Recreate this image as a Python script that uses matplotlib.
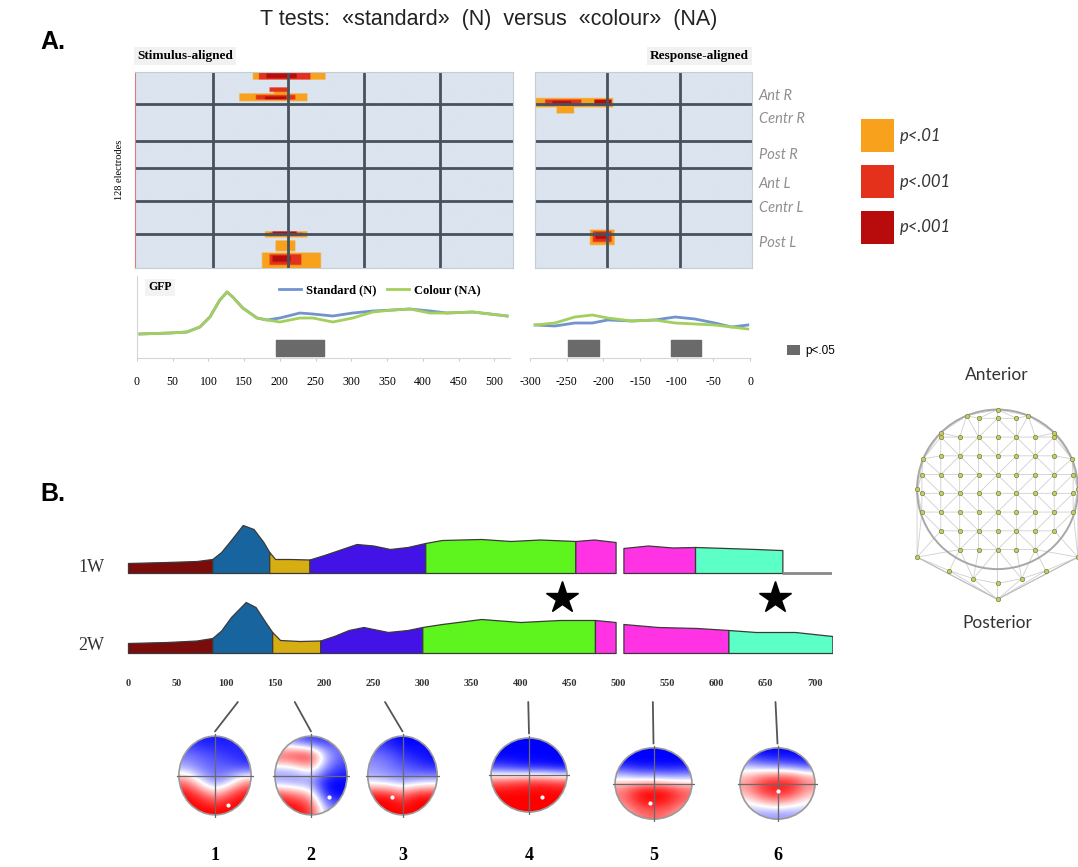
import numpy as np
import matplotlib
matplotlib.use('Agg')
import matplotlib.pyplot as plt
from matplotlib.colors import ListedColormap
from matplotlib.patches import Ellipse, Patch, ConnectionPatch
import matplotlib.tri as mtri

W, H = 1078, 867
SERIF = 'Liberation Serif'
SANS = 'Liberation Sans'
SOFT = 'Lato'

# ---------------- Part A: t-test maps ----------------
region_labels = ['Ant R', 'Centr R', 'Post R', 'Ant L', 'Centr L', 'Post L']
region_label_pos = [15, 30, 53, 72, 88, 111]
region_bounds = [21, 45, 63, 84, 106]
stim_grid_ms = [100, 200, 300, 400]
resp_grid_ms = [-200, -100]

# (first electrode, last electrode, start ms, end ms, level) 1=p<.01, 2/3=p<.001
stim_clusters = [
    (0, 4, 156, 252, 1), (0, 4, 165, 232, 2), (1, 3, 175, 215, 3),
    (14, 18, 139, 229, 1), (15, 17, 160, 212, 2), (16, 17, 172, 200, 3),
    (10, 12, 178, 203, 2), (13, 14, 185, 205, 1),
    (104, 107, 172, 228, 1), (105, 106, 178, 222, 2), (104, 105, 182, 214, 3),
    (110, 116, 186, 212, 1),
    (118, 127, 168, 246, 1), (119, 125, 178, 220, 2), (120, 123, 183, 206, 3),
]
resp_clusters = [
    (17, 22, -300, -192, 1), (18, 21, -285, -236, 2), (19, 20, -275, -250, 3),
    (18, 21, -218, -194, 3), (23, 26, -270, -246, 1),
    (103, 112, -224, -190, 1), (104, 110, -220, -194, 2), (105, 108, -215, -198, 3),
]

# GFP curves
stim_t = [4, 46, 70, 88, 102, 116, 126, 134, 148, 168, 182, 200, 228, 246, 274,
          302, 330, 358, 382, 410, 434, 470, 518]
stim_std = [2.4, 2.5, 2.6, 3.1, 4.1, 5.8, 6.6, 6.1, 5.0, 4.0, 3.8, 4.0, 4.5, 4.4, 4.2,
            4.5, 4.7, 4.8, 4.9, 4.7, 4.5, 4.6, 4.2]
stim_col = [2.4, 2.5, 2.6, 3.1, 4.1, 5.8, 6.6, 6.1, 5.0, 4.0, 3.8, 3.6, 4.0, 4.0, 3.6,
            4.0, 4.6, 4.8, 4.9, 4.5, 4.5, 4.6, 4.2]
resp_t = [-293, -266, -239, -215, -194, -161, -130, -102, -75, -48, -25, -3]
resp_std = [3.3, 3.2, 3.5, 3.5, 3.8, 3.7, 3.8, 4.1, 3.9, 3.5, 3.1, 3.3]
resp_col = [3.3, 3.5, 4.1, 4.3, 4.0, 3.7, 3.8, 3.5, 3.4, 3.3, 3.1, 2.9]
stim_sig = [(195, 262)]
resp_sig = [(-248, -206), (-108, -67)]

# ---------------- Part B: microstate segmentation ----------------
seg_colors = {'m1': '#7a0c0c', 'm2': '#17649f', 'm3': '#d6ad12', 'm4': '#4312e6',
              'm5': '#5ef41e', 'm6': '#ff33e3', 'm7': '#5cffc6'}
t_1w = [0, 40, 70, 86, 95, 105, 117, 128, 138, 144, 150, 165, 185, 200, 215, 233,
        250, 267, 285, 303, 320, 360, 390, 420, 456, 475, 497,
        505, 530, 555, 578, 610, 640, 665, 667]
h_1w = [0.20, 0.22, 0.24, 0.28, 0.42, 0.66, 0.96, 0.88, 0.62, 0.42, 0.28, 0.28, 0.27, 0.36, 0.46, 0.58,
        0.55, 0.48, 0.52, 0.60, 0.66, 0.68, 0.64, 0.67, 0.64, 0.67, 0.62,
        0.50, 0.55, 0.51, 0.52, 0.50, 0.48, 0.46, 0.46]
seg_1w = [(0, 86, 'm1'), (86, 144, 'm2'), (144, 185, 'm3'), (185, 303, 'm4'),
          (303, 456, 'm5'), (456, 497, 'm6'), (505, 578, 'm6'), (578, 667, 'm7')]
tail_1w = (667, 718)
t_2w = [0, 40, 70, 86, 95, 105, 120, 130, 140, 147, 155, 175, 196, 210, 225, 240,
        265, 285, 300, 320, 360, 400, 440, 476, 497,
        505, 540, 580, 612, 640, 680, 718]
h_2w = [0.20, 0.22, 0.25, 0.30, 0.45, 0.72, 1.02, 0.92, 0.62, 0.42, 0.26, 0.24, 0.25, 0.34, 0.46, 0.52,
        0.42, 0.46, 0.52, 0.58, 0.68, 0.62, 0.66, 0.66, 0.62,
        0.58, 0.52, 0.50, 0.46, 0.42, 0.42, 0.34]
seg_2w = [(0, 86, 'm1'), (86, 147, 'm2'), (147, 196, 'm3'), (196, 300, 'm4'),
          (300, 476, 'm5'), (476, 497, 'm6'), (505, 612, 'm6'), (612, 718, 'm7')]
star_t = [442, 660]
b_ticks = list(range(0, 701, 50))

# topographies (coarse rows top->bottom, -1 blue ... +1 red)
topo_maps = [
    [[-0.8, -0.9, -0.9, -0.9, -0.8], [-0.5, -0.6, -0.7, -0.8, -0.9], [-0.3, -0.5, -0.6, -0.6, -0.7],
     [0.6, -0.1, -0.5, -0.2, 0.5], [1, 0.8, 0.3, 0.8, 1], [1, 1, 1, 1, 1]],
    [[-0.3, -0.6, -0.8, -0.8, -0.6], [0.8, 1, 1, -0.2, -0.6], [-0.3, -0.2, 0.2, -0.5, -0.8],
     [-0.4, -0.5, -0.5, -1, -1], [0.8, 0.6, 0.3, -0.9, -1], [1, 1, 0.8, -0.3, -0.5]],
    [[-0.8, -0.9, -1, -1, -0.9], [-0.5, -0.6, -0.8, -0.9, -1], [-0.4, -0.5, -0.6, -0.7, -0.8],
     [-0.2, -0.3, -0.4, -0.3, -0.2], [1, 1, 0.6, 1, 1], [1, 1, 1, 1, 1]],
    [[-1, -1, -1, -1, -1], [-1, -1, -1, -1, -1], [-0.7, -0.8, -0.9, -0.9, -1],
     [0.6, 0.7, 0.8, 0.8, 0.7], [1, 1, 1, 1, 1], [1, 1, 1, 1, 1]],
    [[-1, -1, -1, -1, -1], [-0.9, -1, -1, -1, -1], [-0.1, -0.3, -0.3, -0.4, -0.3],
     [0.5, 0.9, 1, 0.9, 0.6], [0.5, 0.9, 1, 0.9, 0.6], [0.2, 0.5, 0.6, 0.5, 0.2]],
    [[-0.9, -1, -1, -1, -1], [-0.3, -0.5, -0.6, -0.7, -0.8], [0.3, 0.6, 0.7, 0.7, 0.4],
     [0.4, 0.9, 1, 0.9, 0.4], [0, 0.3, 0.5, 0.3, 0], [-0.3, -0.4, -0.4, -0.4, -0.3]],
]
topo_peaks = [(0.35, -0.75), (0.5, -0.55), (-0.3, -0.55), (0.35, -0.6), (-0.1, -0.55), (0.0, -0.2)]
topo_times = [112, 170, 262, 408, 535, 660]
topo_names = ['1', '2', '3', '4', '5', '6']

fig = plt.figure(figsize=(W / 100, H / 100), dpi=100)


def ax_px(x0, y0, x1, y1, **kw):
    return fig.add_axes([x0 / W, 1 - y1 / H, (x1 - x0) / W, (y1 - y0) / H], **kw)


def txt(x, y, s, **kw):
    fig.text(x / W, 1 - y / H, s, **kw)


def build_map(clusters, tmin, tmax, dt=2):
    m = np.zeros((128, int((tmax - tmin) / dt)))
    for e0, e1, t0, t1, lev in clusters:
        c0, c1 = int((t0 - tmin) / dt), int((t1 - tmin) / dt)
        block = m[e0:e1 + 1, c0:c1]
        m[e0:e1 + 1, c0:c1] = np.maximum(block, lev)
    return m


sig_cmap = ListedColormap(['#dbe4ef', '#f8a11c', '#e3311c', '#b80b0b'])
grid_col = '#46525e'

txt(489, 20, 'T tests:  «standard»  (N)  versus  «colour»  (NA)', family=SANS, fontsize=15.5,
    ha='center', va='center', color='#222222')
txt(40, 42, 'A.', family=SANS, fontsize=18, fontweight='bold', va='center')
txt(40, 494, 'B.', family=SANS, fontsize=18, fontweight='bold', va='center')

# stimulus-aligned map
ax_s = ax_px(135, 72, 513, 268)
ax_s.imshow(build_map(stim_clusters, 0, 500), cmap=sig_cmap, vmin=0, vmax=3,
            extent=(-3, 497, 128, 0), aspect='auto', interpolation='bilinear')
ax_s.set_xlim(-3, 497)
for b in region_bounds:
    ax_s.axhline(b, color=grid_col, lw=2)
for g in stim_grid_ms:
    ax_s.axvline(g, color=grid_col, lw=2)
ax_s.set_xticks([])
ax_s.set_yticks([])
for sp in ax_s.spines.values():
    sp.set_color('#c4ccd4')
ax_s.spines['left'].set_color('#e07a7a')
txt(137, 56, 'Stimulus-aligned', family=SERIF, fontsize=9.5, fontweight='bold', va='center',
    bbox=dict(facecolor='#f1f1f1', edgecolor='none', pad=2.5))
txt(119, 170, '128 electrodes', family=SERIF, fontsize=7.5, rotation=90, ha='center', va='center')

# response-aligned map
ax_r = ax_px(535, 72, 752, 268)
ax_r.imshow(build_map(resp_clusters, -300, 0), cmap=sig_cmap, vmin=0, vmax=3,
            extent=(-300, 0, 128, 0), aspect='auto', interpolation='bilinear')
for b in region_bounds:
    ax_r.axhline(b, color=grid_col, lw=2)
for g in resp_grid_ms:
    ax_r.axvline(g, color=grid_col, lw=2)
ax_r.set_xticks([])
ax_r.yaxis.tick_right()
ax_r.set_yticks(region_label_pos)
ax_r.set_yticklabels(region_labels, family=SOFT, style='italic', fontsize=10.5, color='#8f8f8f')
ax_r.tick_params(axis='y', length=0, pad=5)
for sp in ax_r.spines.values():
    sp.set_color('#c4ccd4')
txt(650, 56, 'Response-aligned', family=SERIF, fontsize=9.5, fontweight='bold', va='center',
    bbox=dict(facecolor='#f1f1f1', edgecolor='none', pad=2.5))

p_handles = [Patch(facecolor=c, edgecolor='none') for c in sig_cmap.colors[1:]]
leg = fig.legend(p_handles, ['p<.01', 'p<.001', 'p<.001'], loc='upper left',
                 bbox_to_anchor=(846 / W, 1 - 104 / H), frameon=False, handlelength=2.0,
                 handleheight=2.7, labelspacing=0.75, handletextpad=0.35,
                 prop=dict(family=SOFT, style='italic', size=12))
for t in leg.get_texts():
    t.set_color('#333333')

# GFP stimulus
std_col, col_col, bar_col = '#7393cf', '#a3cf5c', '#6a6a6a'
ax_g = ax_px(137, 276, 510, 358)
ax_g.plot(stim_t, stim_std, color=std_col, lw=2, label='Standard (N)')
ax_g.plot(stim_t, stim_col, color=col_col, lw=2, label='Colour (NA)')
ax_g.broken_barh([(a, b - a) for a, b in stim_sig], (0.2, 1.6), color=bar_col)
ax_g.set_xlim(0, 522)
ax_g.set_ylim(0, 8.2)
ax_g.set_xticks(range(0, 501, 50))
ax_g.set_xticklabels([str(v) for v in range(0, 501, 50)], family=SERIF, fontsize=8.5)
ax_g.set_yticks([])
ax_g.tick_params(axis='x', length=2, pad=11, color='#cccccc')
for k in ['top', 'right']:
    ax_g.spines[k].set_visible(False)
for k in ['left', 'bottom']:
    ax_g.spines[k].set_color('#d6d6d6')
ax_g.text(0.03, 0.86, 'GFP', transform=ax_g.transAxes, family=SERIF, fontsize=8.5,
          fontweight='bold', va='center', bbox=dict(facecolor='#f3f3f3', edgecolor='none', pad=2))
ax_g.legend(loc='upper left', bbox_to_anchor=(0.35, 1.04), ncol=2, frameon=False,
            handlelength=1.8, columnspacing=0.8, handletextpad=0.4,
            prop=dict(family=SERIF, weight='bold', size=9))

# GFP response
ax_gr = ax_px(530, 300, 750, 358)
ax_gr.plot(resp_t, resp_std, color=std_col, lw=2)
ax_gr.plot(resp_t, resp_col, color=col_col, lw=2)
ax_gr.broken_barh([(a, b - a) for a, b in resp_sig], (0.2, 1.6), color=bar_col)
ax_gr.set_xlim(-300, 0)
ax_gr.set_ylim(0, 5.8)
ax_gr.set_xticks(range(-300, 1, 50))
ax_gr.set_xticklabels([str(v) for v in range(-300, 1, 50)], family=SERIF, fontsize=8.5)
ax_gr.set_yticks([])
ax_gr.tick_params(axis='x', length=2, pad=11, color='#cccccc')
for k in ['top', 'right', 'left']:
    ax_gr.spines[k].set_visible(False)
ax_gr.spines['bottom'].set_color('#d6d6d6')
fig.legend([Patch(facecolor=bar_col)], ['p<.05'], loc='center left',
           bbox_to_anchor=(776 / W, 1 - 351 / H), frameon=False, handlelength=1.1,
           handleheight=0.9, handletextpad=0.5, prop=dict(family=SANS, size=8.5))

# ---------------- Part B ----------------
ax_b = ax_px(127, 505, 832, 660)
ax_b.set_xlim(-1, 717.6)
ax_b.set_ylim(-0.14, 2.96)
rows = [(np.array(t_1w), np.array(h_1w), seg_1w, 1.6), (np.array(t_2w), np.array(h_2w), seg_2w, 0.0)]
for tt, hh, segs, base in rows:
    for a, b, key in segs:
        sel = (tt >= a) & (tt <= b)
        ax_b.fill_between(tt[sel], base, base + hh[sel], facecolor=seg_colors[key],
                          edgecolor='#3a3a3a', lw=0.9)
ax_b.hlines(1.6, tail_1w[0], tail_1w[1], color='#8a8a8a', lw=2)
ax_b.plot(star_t, [1.1] * len(star_t), linestyle='none', marker='*', ms=24, color='black')
ax_b.set_xticks(b_ticks)
ax_b.set_xticklabels([str(v) for v in b_ticks], family=SERIF, fontsize=7.5, fontweight='bold',
                     color='#333333')
ax_b.tick_params(axis='x', length=0, pad=14)
ax_b.set_yticks([])
for sp in ax_b.spines.values():
    sp.set_visible(False)
txt(78, 567, '1W', family=SERIF, fontsize=13, va='center', color='#333333')
txt(78, 646, '2W', family=SERIF, fontsize=13, va='center', color='#333333')

# topographic maps
head_rects = [(176, 733, 254, 818), (272, 733, 350, 818), (365, 733, 440, 818),
              (488, 735, 570, 815), (612, 745, 695, 822), (737, 745, 818, 822)]
for grid, peak, t0, name, (x0, y0, x1, y1) in zip(topo_maps, topo_peaks, topo_times,
                                                  topo_names, head_rects):
    ah = ax_px(x0, y0, x1, y1)
    ah.set_xlim(-1.08, 1.08)
    ah.set_ylim(-1.08, 1.08)
    ah.axis('off')
    im = ah.imshow(np.array(grid), cmap='bwr', vmin=-1, vmax=1, extent=(-1, 1, -1, 1),
                   aspect='auto', interpolation='bicubic')
    clip = Ellipse((0, 0), 2, 2, transform=ah.transData)
    im.set_clip_path(clip)
    ah.add_patch(Ellipse((0, 0), 2, 2, fill=False, edgecolor='#9a9a9a', lw=1.2))
    ah.plot([-1.05, 1.05], [0, 0], color='#6a6a6a', lw=0.9)
    ah.plot([0, 0], [-1.05, 1.05], color='#6a6a6a', lw=0.9)
    ah.plot(*peak, marker='o', ms=3, color='white', mec='none')
    con = ConnectionPatch(xyA=(t0, -0.98), coordsA=ax_b.transData, xyB=(0, 1.12),
                          coordsB=ah.transData, color='#555555', lw=1.3)
    fig.add_artist(con)
    txt((x0 + x1) / 2, 855, name, family=SERIF, fontsize=13, fontweight='bold',
        ha='center', va='center')

# electrode montage
am = ax_px(905, 400, 1090, 605)
am.set_xlim(-1.15, 1.15)
am.set_ylim(-1.45, 1.12)
am.axis('off')
pts = []
sp_ = 0.235
for iy in range(-4, 5):
    for ix in range(-4, 5):
        x, y = ix * sp_, iy * sp_ - 0.05
        if x * x + y * y <= 0.98:
            pts.append((x, y))
for ang in np.linspace(np.pi, 0, 9):
    pts.append((np.cos(ang), np.sin(ang)))
pts += [(-1.0, -0.85), (1.0, -0.85), (-0.6, -1.02), (0.6, -1.02), (-0.3, -1.12),
        (0.3, -1.12), (0.0, -1.18), (0.0, -1.38)]
pts = np.array(pts)
tri = mtri.Triangulation(pts[:, 0], pts[:, 1])
am.triplot(tri, color='#cfcfcf', lw=0.6)
am.add_patch(Ellipse((0, 0), 2, 2, fill=False, edgecolor='#a8a8a8', lw=1.4))
am.plot([-1.0, 0.0, 1.0], [-0.85, -1.38, -0.85], color='#bdbdbd', lw=0.8)
am.scatter(pts[:, 0], pts[:, 1], s=10, color='#c6cf5a', edgecolor='#7a7d50', lw=0.5, zorder=3)
txt(997, 375, 'Anterior', family=SOFT, fontsize=12.5, ha='center', va='center', color='#333333')
txt(997, 623, 'Posterior', family=SOFT, fontsize=12.5, ha='center', va='center', color='#333333')

fig.savefig('out.png', dpi=100)
